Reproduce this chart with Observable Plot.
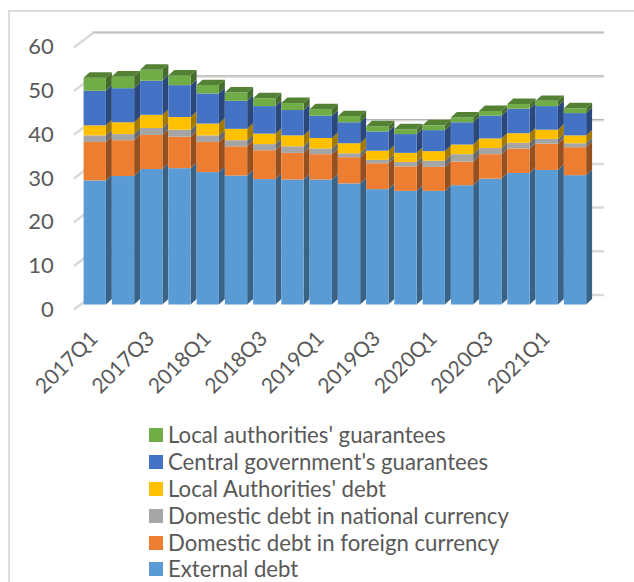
<!DOCTYPE html>
<html>
<head>
<meta charset="utf-8">
<script src="https://cdn.jsdelivr.net/npm/d3@7"></script>
<script src="https://cdn.jsdelivr.net/npm/@observablehq/plot@0.6"></script>
<style>
  html, body { margin: 0; padding: 0; background: #fff; overflow: hidden; width: 634px; height: 582px; }
  #frame { position: absolute; left: 8px; top: 10px; width: 800px; height: 800px; border: 2px solid #dcdcdc; box-sizing: border-box; }
  #chart { position: absolute; left: 0; top: 0; }
  #legend { position: absolute; left: 149px; top: 421.5px; font-family: Lato, sans-serif; font-size: 22.2px; line-height: 18px; color: #595959; }
  .row { display: flex; align-items: center; height: 26.9px; white-space: nowrap; }
  .swatch { width: 14px; height: 14px; margin-right: 5px; flex: none; }
</style>
</head>
<body>
<div id="frame"></div>
<div id="chart"></div>
<div id="legend"></div>
<script>
const quarters = ["2017Q1","2017Q2","2017Q3","2017Q4","2018Q1","2018Q2","2018Q3","2018Q4","2019Q1","2019Q2","2019Q3","2019Q4","2020Q1","2020Q2","2020Q3","2020Q4","2021Q1","2021Q2"];

const externalDebt    = [28.4,29.4,31.0,31.2,30.3,29.5,28.7,28.6,28.6,27.7,26.4,26.0,26.0,27.3,28.8,30.1,30.8,29.6];
const domesticForeign = [8.8,8.2,7.8,7.2,6.9,6.7,6.6,6.1,5.8,6.0,5.9,5.6,5.5,5.4,5.6,5.6,6.0,6.4];
const domesticLocal   = [1.5,1.4,1.6,1.6,1.5,1.4,1.4,1.5,1.3,0.9,0.8,1.0,1.4,1.7,1.4,1.3,1.1,0.9];
const localDebt       = [2.3,2.7,3.0,2.9,2.7,2.6,2.4,2.5,2.4,2.3,2.1,2.1,2.2,2.2,2.2,2.2,2.1,1.8];
const centralGuar     = [7.9,7.8,7.8,7.3,6.9,6.4,6.3,5.8,5.1,4.8,4.4,4.3,4.8,5.1,5.2,5.6,5.4,5.1];
const localGuar       = [3.0,2.7,2.5,2.2,1.9,1.9,1.8,1.6,1.5,1.4,1.2,1.1,1.1,1.1,1.1,1.1,1.2,1.1];

// Stacked bottom to top; each series has a front and a side shade.
const series = [
  {name: "External debt", values: externalDebt, front: "#5b9bd5", side: "#396287"},
  {name: "Domestic debt in foreign currency", values: domesticForeign, front: "#ed7d31", side: "#96501f"},
  {name: "Domestic debt in national currency", values: domesticLocal, front: "#a5a5a5", side: "#686868"},
  {name: "Local Authorities' debt", values: localDebt, front: "#ffc000", side: "#a27a00"},
  {name: "Central government's guarantees", values: centralGuar, front: "#4472c4", side: "#2b487c"},
  {name: "Local authorities' guarantees", values: localGuar, front: "#70ad47", side: "#476d2d"}
];
const topShade = "#548235";

const yTicks = [0, 10, 20, 30, 40, 50, 60];
const xLabels = quarters.filter((_, i) => i % 2 === 0 && i < 17);

// Oblique projection expressed in data units.
const barWidth = 0.79;
const depthX = 0.21;
const depthY = 1.25;
const wallX = 0.32;
const wallY = 2.25;

const fronts = [];
const sides = [];
const tops = [];
quarters.forEach((q, i) => {
  let base = 0;
  series.forEach((s, k) => {
    const end = base + s.values[i];
    fronts.push({x1: i, x2: i + barWidth, y1: base, y2: end, fill: s.front});
    const id = `${q}-${k}`;
    [[i + barWidth, base], [i + barWidth + depthX, base + depthY],
     [i + barWidth + depthX, end + depthY], [i + barWidth, end]]
      .forEach(([x, y]) => sides.push({id, x, y, fill: s.side}));
    base = end;
  });
  [[i, base], [i + barWidth, base], [i + barWidth + depthX, base + depthY], [i + depthX, base + depthY]]
    .forEach(([x, y]) => tops.push({id: q, x, y}));
});

const gridRight = 18.42;
const tickLeft = -0.36;

const plot = Plot.plot({
  width: 634,
  height: 410,
  margin: 0,
  x: {domain: [0, 18], range: [83.6, 592.1], axis: null},
  y: {domain: [0, 60], range: [304.5, 42.3], axis: null},
  style: {background: "transparent", overflow: "visible"},
  marks: [
    // Back wall gridlines and the slanted ticks on the left wall
    Plot.ruleY(yTicks, {y: d => d + wallY + 0.04, x1: wallX, x2: gridRight, stroke: "#d9d9d9", strokeWidth: 2.5}),
    Plot.ruleY(yTicks.filter(d => d >= 40), {y: d => d + wallY + 0.2, x1: wallX, x2: gridRight, stroke: "#b4b4b4", strokeWidth: 1}),
    Plot.link(yTicks, {x1: tickLeft, y1: d => d - 1.05, x2: wallX, y2: d => d + wallY, stroke: "#d9d9d9", strokeWidth: 2.5}),

    // Bars: side faces, then front faces, then the cap of each stack.
    // The half-pixel shift cancels the offset Plot gives to line paths, so faces meet.
    Plot.line(sides, {x: "x", y: "y", z: "id", fill: "fill", stroke: null, curve: "linear", dx: -0.5, dy: -0.5}),
    Plot.rect(fronts, {x1: "x1", x2: "x2", y1: "y1", y2: "y2", fill: "fill"}),
    Plot.line(tops, {x: "x", y: "y", z: "id", fill: topShade, stroke: null, curve: "linear", dx: -0.5, dy: -0.5}),

    // Axis labels
    Plot.text(yTicks, {
      x: -1.07, y: d => d - 1.05, text: d => String(d), textAnchor: "end",
      fontFamily: "Lato, sans-serif", fontSize: 22, fill: "#595959"
    }),
    Plot.text(xLabels, {
      x: d => quarters.indexOf(d) + 0.36, y: -6.9, text: d => d,
      rotate: -45, textAnchor: "end",
      fontFamily: "Lato, sans-serif", fontSize: 21, fill: "#595959"
    })
  ]
});
document.getElementById("chart").append(plot);

// Legend, listed top of stack first
const legend = d3.select("#legend");
[...series].reverse().forEach(s => {
  const row = legend.append("div").attr("class", "row");
  row.append("span").attr("class", "swatch").style("background", s.front);
  row.append("span").text(s.name);
});
</script>
</body>
</html>
